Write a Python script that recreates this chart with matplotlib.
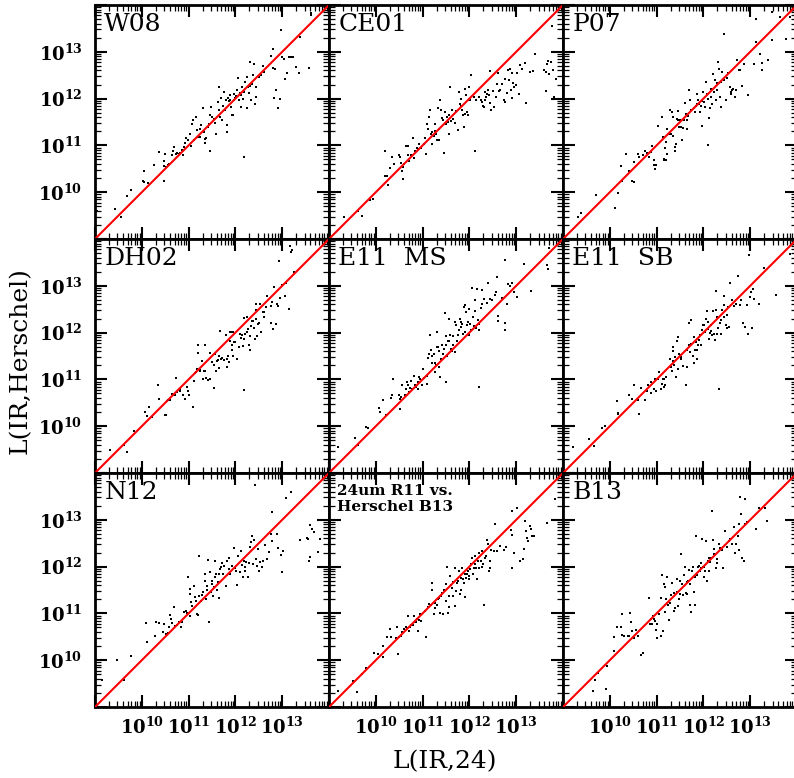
import matplotlib
matplotlib.use("Agg")
import matplotlib.pyplot as plt
import numpy as np
from matplotlib.ticker import FixedLocator, FuncFormatter, NullFormatter

# log10 L(IR,24) (x) and log10 L(IR,Herschel) (y)
w08_x = [9.04, 9.43, 9.55, 9.68, 9.76, 10.02, 10.04, 10.05, 10.14, 10.27,
         10.36, 10.48, 10.50, 10.48, 10.52, 10.55, 10.59, 10.48, 10.64, 10.66,
         10.69, 10.74, 10.76, 10.79, 10.82, 10.86, 10.88, 10.91, 10.93, 10.95,
         10.98, 11.04, 11.05, 11.07, 11.09, 11.12, 11.16, 11.18, 11.21, 11.24,
         11.25, 11.27, 11.31, 11.32, 11.34, 11.36, 11.38, 11.41, 11.43, 11.45,
         11.46, 11.48, 11.50, 11.54, 11.57, 11.59, 11.62, 11.64, 11.66, 11.68,
         11.69, 11.71, 11.74, 11.75, 11.77, 11.79, 11.81, 11.82, 11.84, 11.86,
         11.88, 11.89, 11.91, 11.93, 11.95, 11.96, 11.98, 12.00, 12.02, 12.04,
         12.05, 12.07, 12.09, 12.11, 12.12, 12.14, 12.16, 12.18, 12.19, 12.21,
         12.24, 12.25, 12.26, 12.29, 12.31, 12.32, 12.34, 12.36, 12.38, 12.39,
         12.41, 12.43, 12.45, 12.50, 12.54, 12.59, 12.61, 12.75, 12.81, 12.81,
         12.82, 12.86, 12.84, 12.91, 12.95, 12.98, 13.00, 13.04, 13.07, 13.11,
         13.14, 13.18, 13.24, 13.29, 13.36, 13.38, 13.57, 13.61, 13.62]
w08_y = [9.59, 9.64, 9.46, 9.91, 10.04, 10.25, 10.21, 10.46, 10.20, 10.59,
         10.86, 10.66, 10.81, 10.56, 10.54, 10.59, 10.61, 10.24, 10.79, 10.88,
         10.96, 10.81, 10.84, 10.81, 10.84, 10.91, 10.79, 10.96, 11.06, 11.16,
         11.12, 11.25, 10.98, 11.46, 11.55, 11.11, 11.61, 11.32, 11.18, 11.19,
         11.36, 11.43, 11.79, 11.29, 11.05, 11.14, 11.16, 11.39, 11.45, 11.64,
         10.89, 11.82, 11.61, 11.56, 11.48, 11.24, 11.93, 12.24, 11.75, 11.61,
         12.02, 11.54, 11.84, 12.14, 11.75, 11.96, 11.29, 11.44, 12.02, 11.94,
         11.98, 12.07, 11.81, 11.64, 11.66, 11.96, 12.09, 12.02, 12.05, 12.19,
         12.43, 11.96, 12.11, 11.82, 12.07, 12.24, 12.00, 10.75, 12.14, 12.36,
         12.46, 11.79, 12.25, 12.11, 12.79, 12.26, 11.96, 12.32, 12.50, 12.75,
         11.88, 12.04, 12.24, 12.46, 12.50, 12.69, 12.57, 12.91, 13.07, 12.66,
         12.02, 12.18, 12.64, 11.80, 12.00, 13.46, 12.88, 12.85, 12.41, 12.55,
         12.89, 12.89, 12.89, 12.68, 12.55, 13.32, 12.66, 13.82, 13.78]

ce01_x = [9.32, 9.70, 9.63, 9.88, 9.93, 10.19, 10.24, 10.27, 10.20, 10.31,
          10.34, 10.39, 10.50, 10.52, 10.54, 10.57, 10.59, 10.59, 10.61, 10.64,
          10.68, 10.69, 10.71, 10.75, 10.79, 10.81, 10.84, 10.88, 10.90, 10.93,
          10.97, 11.02, 11.06, 11.07, 11.09, 11.11, 11.14, 11.16, 11.19, 11.20,
          11.21, 11.24, 11.26, 11.27, 11.29, 11.31, 11.33, 11.34, 11.36, 11.38,
          11.40, 11.41, 11.43, 11.45, 11.47, 11.50, 11.52, 11.54, 11.56, 11.57,
          11.59, 11.61, 11.63, 11.66, 11.69, 11.71, 11.76, 11.77, 11.79, 11.81,
          11.83, 11.84, 11.86, 11.88, 11.90, 11.91, 11.93, 11.95, 11.97, 11.99,
          12.00, 12.02, 12.04, 12.09, 12.11, 12.14, 12.20, 12.24, 12.26, 12.29,
          12.31, 12.33, 12.34, 12.36, 12.38, 12.40, 12.41, 12.43, 12.45, 12.47,
          12.50, 12.52, 12.56, 12.59, 12.61, 12.64, 12.66, 12.70, 12.74, 12.76,
          12.77, 12.81, 12.83, 12.84, 12.86, 12.88, 12.90, 12.91, 12.93, 12.95,
          12.99, 13.02, 13.06, 13.09, 13.13, 13.19, 13.22, 13.29, 13.36, 13.40,
          13.60, 13.63, 13.64, 13.66, 13.69, 13.70, 13.74, 13.77, 13.79, 13.81,
          13.84]
ce01_y = [9.48, 9.50, 9.59, 9.84, 9.86, 10.34, 10.34, 10.16, 10.88, 10.52,
          10.76, 10.61, 10.80, 10.75, 10.62, 10.45, 10.29, 10.54, 10.61, 10.99,
          10.99, 10.79, 10.66, 10.79, 11.16, 10.74, 10.88, 10.94, 10.93, 11.04,
          10.94, 11.04, 11.16, 10.82, 11.46, 11.36, 11.61, 11.75, 11.25, 11.29,
          11.02, 11.21, 11.45, 11.31, 11.25, 11.11, 11.79, 11.11, 11.36, 11.96,
          11.75, 11.59, 11.55, 10.84, 11.71, 11.46, 11.61, 11.50, 11.25, 11.66,
          12.25, 11.52, 11.75, 11.57, 11.48, 11.74, 11.32, 12.14, 11.88, 11.84,
          11.99, 11.75, 11.64, 11.39, 12.21, 11.68, 12.07, 11.71, 11.66, 11.98,
          12.24, 11.96, 12.50, 12.04, 10.88, 11.98, 12.04, 11.96, 11.93, 11.84,
          11.81, 12.14, 11.96, 12.04, 12.09, 12.18, 12.07, 12.59, 11.91, 11.75,
          12.16, 11.81, 12.04, 12.31, 12.55, 12.16, 12.19, 12.32, 11.96, 12.41,
          11.93, 12.12, 12.61, 12.39, 12.64, 12.18, 12.02, 12.55, 12.34, 12.25,
          12.29, 12.55, 12.09, 12.71, 12.64, 12.76, 11.91, 12.57, 12.59, 12.95,
          12.61, 12.16, 12.57, 12.74, 12.81, 12.52, 12.79, 13.55, 12.61, 12.04,
          12.41]

p07_x = [9.32, 9.39, 9.71, 10.11, 10.18, 10.26, 10.24, 10.35, 10.42, 10.47,
         10.51, 10.52, 10.61, 10.63, 10.70, 10.75, 10.79, 10.84, 10.89, 10.91,
         10.94, 10.95, 10.96, 10.99, 11.04, 11.11, 11.13, 11.15, 11.16, 11.18,
         11.20, 11.21, 11.22, 11.23, 11.27, 11.29, 11.30, 11.32, 11.34, 11.36,
         11.39, 11.39, 11.41, 11.43, 11.45, 11.46, 11.48, 11.50, 11.53, 11.55,
         11.57, 11.59, 11.60, 11.62, 11.65, 11.66, 11.68, 11.70, 11.72, 11.73,
         11.74, 11.79, 11.82, 11.84, 11.86, 11.87, 11.89, 11.91, 11.93, 11.94,
         11.96, 11.98, 12.00, 12.01, 12.03, 12.05, 12.07, 12.09, 12.10, 12.12,
         12.14, 12.16, 12.17, 12.19, 12.21, 12.23, 12.24, 12.26, 12.28, 12.30,
         12.31, 12.33, 12.35, 12.37, 12.38, 12.40, 12.43, 12.44, 12.48, 12.50,
         12.52, 12.57, 12.58, 12.60, 12.62, 12.64, 12.67, 12.69, 12.72, 12.76,
         12.79, 12.83, 12.87, 12.95, 13.08, 13.13, 13.13, 13.21, 13.26, 13.26,
         13.38, 13.47, 13.47, 13.63, 13.77, 13.84]
p07_y = [9.48, 9.56, 9.93, 9.66, 9.98, 10.25, 10.55, 10.81, 10.45, 10.24,
         10.21, 10.64, 10.82, 10.75, 10.79, 10.89, 10.84, 10.76, 10.86, 10.98,
         10.68, 10.59, 10.50, 10.59, 11.42, 11.61, 11.18, 10.71, 10.69, 10.95,
         10.69, 11.07, 11.36, 10.81, 11.24, 11.75, 11.25, 11.71, 11.21, 11.61,
         10.96, 10.88, 11.04, 11.57, 11.54, 11.74, 11.39, 11.55, 11.39, 11.12,
         11.38, 11.54, 11.91, 11.68, 11.36, 11.54, 11.62, 12.18, 11.96, 11.75,
         11.75, 11.79, 11.71, 11.84, 12.09, 11.89, 11.96, 11.88, 11.71, 11.84,
         11.42, 11.95, 12.14, 11.93, 11.81, 12.36, 12.09, 11.99, 11.00, 11.59,
         11.79, 12.21, 12.04, 11.89, 12.52, 12.14, 12.39, 11.96, 12.34, 12.19,
         12.79, 12.64, 12.04, 11.82, 12.36, 12.57, 13.38, 12.39, 11.96, 12.45,
         12.55, 12.24, 12.14, 12.09, 12.18, 12.21, 12.04, 12.19, 12.82, 12.61,
         12.61, 12.26, 12.75, 12.07, 12.75, 13.21, 13.71, 12.95, 12.61, 12.76,
         12.82, 13.26, 13.84, 13.75, 13.28, 13.74]

dh02_x = [9.32, 9.62, 9.68, 9.84, 10.06, 10.11, 10.16, 10.21, 10.34, 10.37,
          10.50, 10.52, 10.54, 10.57, 10.61, 10.64, 10.66, 10.71, 10.74, 10.76,
          10.81, 10.82, 10.89, 10.93, 10.96, 10.98, 11.00, 11.09, 11.11, 11.14,
          11.16, 11.19, 11.21, 11.21, 11.24, 11.25, 11.29, 11.31, 11.32, 11.36,
          11.36, 11.38, 11.41, 11.45, 11.46, 11.50, 11.54, 11.55, 11.57, 11.59,
          11.61, 11.62, 11.64, 11.66, 11.68, 11.69, 11.71, 11.75, 11.79, 11.81,
          11.82, 11.84, 11.86, 11.88, 11.89, 11.91, 11.93, 11.93, 11.94, 11.95,
          11.96, 11.99, 12.04, 12.07, 12.09, 12.11, 12.14, 12.16, 12.18, 12.19,
          12.19, 12.21, 12.24, 12.25, 12.26, 12.29, 12.31, 12.32, 12.34, 12.36,
          12.38, 12.39, 12.41, 12.43, 12.43, 12.45, 12.46, 12.48, 12.50, 12.52,
          12.54, 12.59, 12.61, 12.62, 12.66, 12.68, 12.76, 12.76, 12.79, 12.81,
          12.82, 12.86, 12.89, 12.91, 12.93, 12.95, 13.00, 13.05, 13.09, 13.14,
          13.16, 13.18, 13.21, 13.25]
dh02_y = [9.50, 9.59, 9.44, 9.89, 10.31, 10.21, 10.41, 10.19, 10.87, 10.59,
          10.23, 10.24, 10.54, 10.57, 10.57, 10.69, 10.67, 10.66, 11.03, 10.74,
          10.76, 10.79, 10.67, 10.59, 10.84, 10.76, 10.66, 10.40, 10.97, 11.14,
          11.16, 11.23, 11.73, 11.57, 11.17, 11.20, 11.39, 11.01, 11.19, 11.74,
          11.19, 11.04, 10.98, 11.00, 11.57, 11.37, 10.81, 11.30, 11.55, 11.17,
          11.39, 11.41, 11.50, 11.24, 12.03, 11.43, 11.46, 11.41, 11.94, 11.26,
          11.44, 11.50, 11.37, 12.01, 11.81, 12.01, 11.73, 11.62, 11.51, 12.01,
          11.79, 11.80, 11.44, 11.69, 11.98, 11.89, 11.94, 11.71, 12.31, 10.78,
          11.87, 11.98, 12.34, 12.01, 12.07, 11.73, 11.62, 11.93, 12.14, 12.24,
          12.24, 12.09, 11.86, 12.30, 12.62, 12.48, 11.93, 12.19, 12.21, 12.62,
          12.01, 12.43, 12.34, 12.43, 12.55, 12.79, 12.21, 12.57, 12.66, 12.07,
          12.98, 12.19, 12.62, 12.57, 13.54, 12.73, 13.01, 12.79, 13.05, 12.51,
          13.84, 13.73, 13.76, 13.30]

e11ms_x = [9.20, 9.56, 9.63, 9.79, 9.83, 10.07, 10.09, 10.16, 10.21, 10.33,
           10.34, 10.36, 10.50, 10.52, 10.52, 10.54, 10.56, 10.63, 10.64, 10.66,
           10.69, 10.70, 10.74, 10.76, 10.77, 10.81, 10.83, 10.86, 10.90, 10.91,
           10.93, 10.95, 10.99, 11.00, 11.02, 11.09, 11.09, 11.11, 11.14, 11.16,
           11.19, 11.20, 11.21, 11.24, 11.26, 11.27, 11.29, 11.31, 11.31, 11.33,
           11.34, 11.36, 11.38, 11.40, 11.41, 11.43, 11.45, 11.47, 11.49, 11.50,
           11.50, 11.52, 11.54, 11.56, 11.57, 11.59, 11.61, 11.63, 11.64, 11.66,
           11.69, 11.70, 11.71, 11.74, 11.76, 11.77, 11.79, 11.81, 11.83, 11.84,
           11.86, 11.88, 11.90, 11.91, 11.93, 11.95, 11.97, 11.99, 12.00, 12.02,
           12.04, 12.06, 12.07, 12.09, 12.11, 12.13, 12.14, 12.16, 12.19, 12.20,
           12.21, 12.21, 12.24, 12.26, 12.27, 12.31, 12.38, 12.40, 12.45, 12.49,
           12.54, 12.57, 12.59, 12.61, 12.61, 12.70, 12.76, 12.77, 12.77, 12.81,
           12.83, 12.86, 12.90, 12.95, 13.02, 13.16, 13.31, 13.66, 13.69, 13.70]
e11ms_y = [9.55, 9.74, 9.59, 9.98, 9.96, 10.39, 10.30, 10.55, 10.24, 10.60,
           10.67, 11.00, 10.66, 10.59, 10.36, 10.62, 10.87, 10.67, 10.79, 10.94,
           10.87, 10.73, 10.81, 10.96, 10.80, 11.07, 10.87, 10.84, 10.94, 10.79,
           11.05, 11.00, 10.89, 11.23, 11.03, 10.91, 11.07, 11.46, 11.55, 11.94,
           11.62, 11.50, 11.34, 11.55, 11.36, 11.16, 11.30, 12.01, 11.69, 11.69,
           11.60, 11.26, 11.05, 11.44, 11.73, 11.55, 11.66, 12.41, 11.93, 10.94,
           11.73, 11.51, 11.81, 12.30, 11.81, 11.94, 11.66, 11.60, 11.93, 11.73,
           11.59, 12.23, 12.17, 11.81, 11.94, 12.05, 12.30, 12.12, 12.23, 12.19,
           11.98, 12.55, 12.01, 12.59, 12.43, 12.16, 12.23, 12.51, 11.94, 12.19,
           12.05, 12.96, 12.34, 12.14, 12.69, 12.46, 12.09, 12.93, 12.26, 12.19,
           10.84, 12.05, 12.53, 12.62, 12.91, 12.71, 12.64, 13.07, 12.71, 12.69,
           12.80, 12.86, 13.19, 12.35, 12.24, 12.73, 13.55, 12.21, 12.06, 12.62,
           13.03, 13.00, 13.07, 12.87, 12.76, 13.46, 12.89, 13.44, 13.36, 13.80]

e11sb_x = [9.21, 9.55, 9.67, 9.83, 9.89, 10.16, 10.17, 10.18, 10.42, 10.47,
           10.52, 10.61, 10.63, 10.67, 10.75, 10.79, 10.82, 10.87, 10.88, 10.94,
           10.96, 10.99, 11.02, 11.06, 11.09, 11.11, 11.13, 11.15, 11.16, 11.18,
           11.20, 11.29, 11.30, 11.32, 11.34, 11.34, 11.36, 11.38, 11.39, 11.41,
           11.43, 11.45, 11.46, 11.48, 11.50, 11.52, 11.53, 11.57, 11.62, 11.65,
           11.66, 11.70, 11.70, 11.72, 11.73, 11.74, 11.77, 11.79, 11.80, 11.82,
           11.84, 11.86, 11.87, 11.89, 11.91, 11.93, 11.94, 11.98, 12.00, 12.01,
           12.03, 12.05, 12.07, 12.09, 12.10, 12.12, 12.14, 12.16, 12.17, 12.19,
           12.21, 12.23, 12.24, 12.26, 12.26, 12.28, 12.30, 12.31, 12.33, 12.35,
           12.37, 12.38, 12.40, 12.43, 12.44, 12.45, 12.48, 12.50, 12.51, 12.52,
           12.55, 12.57, 12.62, 12.65, 12.69, 12.74, 12.78, 12.81, 12.85, 12.88,
           12.94, 12.95, 12.97, 12.99, 13.02, 13.04, 13.06, 13.09, 13.18, 13.29,
           13.56, 13.84]
e11sb_y = [9.55, 9.73, 9.57, 9.96, 10.00, 10.53, 10.26, 10.29, 10.66, 10.59,
           10.89, 10.55, 10.26, 10.81, 10.55, 10.76, 10.87, 10.71, 10.94, 10.80,
           11.01, 10.76, 11.00, 11.16, 10.79, 10.91, 11.00, 10.84, 11.00, 10.89,
           11.05, 11.43, 11.26, 11.17, 11.69, 11.60, 11.39, 11.30, 11.48, 11.05,
           11.81, 11.91, 11.23, 11.55, 11.53, 11.44, 11.48, 11.29, 10.87, 11.26,
           11.62, 12.21, 11.73, 11.59, 11.76, 12.26, 11.51, 11.91, 11.34, 11.62,
           11.79, 11.44, 11.62, 11.73, 11.84, 11.94, 11.73, 12.05, 12.17, 12.16,
           12.01, 12.30, 12.46, 12.07, 12.23, 11.87, 12.00, 12.16, 12.03, 11.94,
           12.46, 11.98, 11.84, 12.89, 12.48, 12.34, 11.96, 12.09, 10.80, 12.21,
           11.96, 12.26, 12.48, 12.34, 12.79, 12.59, 12.16, 12.09, 12.37, 12.55,
           12.12, 13.05, 12.69, 12.57, 12.62, 13.21, 12.59, 12.69, 12.21, 12.11,
           12.60, 11.96, 13.66, 12.76, 12.87, 12.09, 12.94, 12.71, 12.62, 13.37,
           12.80, 13.69]

n12_x = [9.15, 9.48, 9.62, 9.77, 10.09, 10.12, 10.28, 10.30, 10.37, 10.45,
         10.48, 10.51, 10.55, 10.58, 10.60, 10.62, 10.65, 10.69, 10.71, 10.76,
         10.79, 10.83, 10.85, 10.90, 10.94, 10.97, 10.99, 11.02, 11.04, 11.04,
         11.06, 11.08, 11.11, 11.13, 11.15, 11.18, 11.21, 11.22, 11.23, 11.26,
         11.28, 11.30, 11.35, 11.36, 11.38, 11.40, 11.40, 11.42, 11.43, 11.45,
         11.47, 11.49, 11.50, 11.52, 11.54, 11.56, 11.57, 11.59, 11.61, 11.63,
         11.65, 11.66, 11.68, 11.70, 11.72, 11.73, 11.75, 11.79, 11.82, 11.86,
         11.87, 11.89, 11.93, 11.96, 12.00, 12.01, 12.04, 12.06, 12.09, 12.11,
         12.14, 12.16, 12.18, 12.20, 12.21, 12.23, 12.27, 12.28, 12.32, 12.34,
         12.35, 12.37, 12.39, 12.41, 12.43, 12.46, 12.48, 12.50, 12.53, 12.57,
         12.60, 12.64, 12.67, 12.71, 12.77, 12.78, 12.79, 12.89, 12.91, 12.98,
         12.99, 13.01, 13.08, 13.19, 13.38, 13.52, 13.56, 13.57, 13.60, 13.60,
         13.63, 13.69, 13.77, 13.81]
n12_y = [9.58, 10.00, 9.58, 10.08, 10.79, 10.38, 10.51, 10.81, 10.79, 10.61,
         10.77, 10.56, 10.59, 10.70, 10.96, 10.88, 10.79, 11.13, 10.74, 10.75,
         10.81, 10.70, 10.81, 11.02, 11.06, 11.01, 11.77, 10.95, 11.52, 11.41,
         11.24, 11.16, 11.59, 11.34, 11.27, 10.99, 10.96, 12.22, 11.38, 11.27,
         11.39, 11.45, 11.70, 11.84, 11.31, 11.58, 11.49, 12.15, 10.81, 11.89,
         11.45, 11.63, 11.70, 11.38, 11.56, 11.77, 12.11, 11.84, 11.49, 11.68,
         11.84, 11.32, 11.95, 11.99, 12.08, 11.84, 12.02, 11.59, 12.13, 12.18,
         11.95, 11.84, 12.02, 12.39, 11.96, 11.91, 11.61, 12.22, 11.88, 12.34,
         12.04, 11.77, 12.13, 11.99, 11.91, 12.09, 11.77, 12.08, 12.41, 12.52,
         12.65, 12.06, 12.56, 13.75, 12.16, 12.02, 12.38, 11.91, 12.09, 11.99,
         12.13, 12.46, 12.16, 12.31, 12.70, 13.16, 12.54, 12.70, 12.39, 12.24,
         11.88, 12.34, 13.46, 13.59, 12.56, 12.61, 12.59, 12.11, 12.20, 12.88,
         12.81, 12.75, 12.32, 12.59]

r11_x = [9.20, 9.52, 9.59, 9.71, 9.79, 9.97, 10.04, 10.16, 10.16, 10.24,
         10.31, 10.33, 10.43, 10.45, 10.47, 10.50, 10.54, 10.57, 10.61, 10.64,
         10.66, 10.69, 10.70, 10.74, 10.76, 10.79, 10.81, 10.83, 10.86, 10.88,
         10.90, 10.93, 10.95, 10.97, 11.06, 11.07, 11.11, 11.14, 11.19, 11.20,
         11.21, 11.24, 11.26, 11.27, 11.31, 11.33, 11.36, 11.38, 11.40, 11.41,
         11.43, 11.45, 11.49, 11.50, 11.52, 11.54, 11.56, 11.57, 11.59, 11.61,
         11.63, 11.64, 11.66, 11.69, 11.70, 11.71, 11.74, 11.76, 11.77, 11.79,
         11.81, 11.83, 11.84, 11.86, 11.88, 11.90, 11.91, 11.93, 11.95, 11.97,
         11.99, 12.00, 12.02, 12.04, 12.06, 12.07, 12.09, 12.11, 12.13, 12.14,
         12.16, 12.19, 12.20, 12.21, 12.24, 12.26, 12.27, 12.29, 12.31, 12.33,
         12.34, 12.36, 12.38, 12.40, 12.41, 12.43, 12.45, 12.47, 12.52, 12.54,
         12.59, 12.66, 12.74, 12.79, 12.88, 12.90, 12.90, 12.91, 12.95, 13.02,
         13.09, 13.14, 13.16, 13.19, 13.21, 13.24, 13.26, 13.29, 13.31, 13.33,
         13.38, 13.66, 13.83]
r11_y = [9.35, 9.55, 9.32, 9.71, 9.84, 10.16, 10.14, 10.07, 10.30, 10.49,
         10.66, 10.49, 10.48, 10.71, 10.14, 10.49, 10.51, 10.61, 10.66, 10.71,
         10.68, 10.94, 10.62, 10.71, 10.76, 10.75, 10.94, 10.82, 10.82, 10.87,
         10.62, 10.85, 10.99, 10.84, 11.06, 10.49, 11.14, 11.21, 11.18, 11.64,
         11.51, 10.98, 11.23, 11.12, 11.18, 11.30, 11.32, 11.01, 11.37, 11.44,
         10.98, 11.49, 11.62, 11.26, 11.99, 11.01, 11.14, 11.37, 11.80, 11.61,
         11.54, 11.68, 11.37, 11.98, 11.16, 11.48, 11.66, 11.69, 11.91, 11.42,
         11.51, 11.76, 11.96, 11.73, 11.66, 11.34, 11.85, 11.76, 11.85, 11.91,
         11.80, 11.73, 11.94, 12.05, 12.19, 11.84, 11.98, 12.06, 12.23, 11.96,
         11.73, 12.12, 12.28, 11.98, 12.12, 11.99, 12.34, 12.05, 11.18, 12.19,
         12.18, 12.23, 12.56, 12.49, 11.91, 11.98, 12.11, 12.35, 12.34, 12.92,
         12.34, 12.44, 12.35, 12.41, 12.78, 13.18, 12.68, 11.96, 12.28, 13.25,
         12.11, 12.16, 12.37, 12.98, 12.76, 12.61, 12.54, 12.87, 12.80, 12.66,
         12.66, 12.94, 13.44]

b13_x = [9.65, 9.68, 9.75, 9.91, 9.94, 10.08, 10.08, 10.15, 10.23, 10.25,
         10.25, 10.30, 10.38, 10.41, 10.43, 10.46, 10.48, 10.52, 10.57, 10.60,
         10.67, 10.72, 10.84, 10.86, 10.87, 10.91, 10.93, 10.94, 10.96, 10.98,
         11.00, 11.01, 11.05, 11.09, 11.10, 11.12, 11.14, 11.16, 11.17, 11.19,
         11.21, 11.23, 11.24, 11.26, 11.28, 11.30, 11.33, 11.37, 11.38, 11.40,
         11.43, 11.44, 11.45, 11.48, 11.50, 11.51, 11.52, 11.55, 11.57, 11.58,
         11.60, 11.62, 11.64, 11.65, 11.67, 11.69, 11.71, 11.72, 11.74, 11.76,
         11.78, 11.79, 11.81, 11.83, 11.85, 11.87, 11.88, 11.90, 11.92, 11.94,
         11.95, 11.97, 11.99, 12.01, 12.02, 12.04, 12.06, 12.08, 12.09, 12.11,
         12.13, 12.15, 12.16, 12.18, 12.21, 12.22, 12.23, 12.26, 12.28, 12.29,
         12.33, 12.36, 12.40, 12.42, 12.47, 12.50, 12.54, 12.57, 12.61, 12.65,
         12.68, 12.70, 12.73, 12.75, 12.77, 12.79, 12.80, 12.82, 12.86, 12.89,
         12.89, 12.94, 13.13, 13.18, 13.32, 13.35]
b13_y = [9.35, 9.57, 9.73, 9.38, 9.87, 10.19, 10.50, 10.72, 10.71, 10.98,
         10.53, 10.51, 10.51, 10.51, 11.01, 10.82, 10.62, 10.48, 10.65, 10.51,
         10.11, 10.16, 11.33, 10.77, 10.87, 10.78, 10.94, 10.89, 10.84, 10.65,
         10.48, 10.78, 10.99, 10.51, 11.33, 11.81, 10.62, 11.63, 11.57, 11.03,
         11.31, 11.77, 11.17, 10.85, 11.22, 11.40, 11.65, 11.06, 11.43, 11.12,
         11.74, 11.45, 11.15, 11.31, 11.69, 11.42, 12.26, 11.63, 11.40, 11.81,
         12.00, 11.43, 11.67, 11.42, 11.70, 11.93, 11.17, 11.63, 11.03, 11.91,
         11.99, 11.45, 11.77, 11.19, 12.66, 11.81, 12.00, 12.02, 11.91, 12.07,
         11.97, 12.59, 11.99, 11.77, 12.00, 11.91, 12.54, 11.70, 12.11, 12.18,
         11.90, 12.09, 12.18, 13.18, 12.57, 12.27, 12.38, 11.97, 12.07, 12.16,
         12.48, 12.40, 12.35, 11.97, 12.77, 12.41, 12.54, 12.59, 12.48, 12.85,
         12.30, 12.48, 12.66, 12.35, 12.92, 13.48, 13.12, 12.18, 12.11, 12.92,
         13.44, 12.96, 12.80, 13.25, 13.26, 12.98]

panel_names = ["W08", "CE01", "P07",
               "DH02", "E11  MS", "E11  SB",
               "N12", "24um R11 vs.\nHerschel B13", "B13"]
panel_x = [w08_x, ce01_x, p07_x, dh02_x, e11ms_x, e11sb_x, n12_x, r11_x, b13_x]
panel_y = [w08_y, ce01_y, p07_y, dh02_y, e11ms_y, e11sb_y, n12_y, r11_y, b13_y]

lmin, lmax = 9, 14
labelled_decades = [10, 11, 12, 13]

plt.rcParams['font.family'] = ['DejaVu Serif']
plt.rcParams['mathtext.fontset'] = 'dejavuserif'


def decade_label(v, pos):
    e = int(round(np.log10(v)))
    if e in labelled_decades:
        return r'$\mathbf{10^{%d}}$' % e
    return ''


fig = plt.figure(figsize=(7.94, 7.78), dpi=100)
W, H = 794.0, 778.0
left0, top0, size = 95.0, 5.0, 234.0

for k in range(9):
    row, col = divmod(k, 3)
    l = (left0 + col * size) / W
    b = (H - (top0 + (row + 1) * size)) / H
    ax = fig.add_axes([l, b, size / W, size / H])

    xs = 10.0 ** np.array(panel_x[k])
    ys = 10.0 ** np.array(panel_y[k])
    n = min(len(xs), len(ys))
    ax.scatter(xs[:n], ys[:n], s=2.6, marker='s', c='black', linewidths=0, zorder=2)
    ax.plot([10.0 ** lmin, 10.0 ** lmax], [10.0 ** lmin, 10.0 ** lmax],
            color='red', lw=1.5, zorder=3)

    ax.set_xscale('log')
    ax.set_yscale('log')
    ax.set_xlim(10.0 ** lmin, 10.0 ** lmax)
    ax.set_ylim(10.0 ** lmin, 10.0 ** lmax)

    majors = [10.0 ** e for e in range(lmin, lmax + 1)]
    minors = [m * 10.0 ** e for e in range(lmin, lmax) for m in range(2, 10)]
    for axis in (ax.xaxis, ax.yaxis):
        axis.set_major_locator(FixedLocator(majors))
        axis.set_minor_locator(FixedLocator(minors))
        axis.set_major_formatter(FuncFormatter(decade_label))
        axis.set_minor_formatter(NullFormatter())

    ax.tick_params(which='both', direction='in', top=True, right=True)
    ax.tick_params(which='major', length=8.5, width=1.5, labelsize=13, pad=7)
    ax.tick_params(which='minor', length=4.5, width=0.9)
    ax.tick_params(axis='y', which='major', pad=9)
    if col != 0:
        ax.tick_params(axis='y', labelleft=False)
    if row != 2:
        ax.tick_params(axis='x', labelbottom=False)
    for sp in ax.spines.values():
        sp.set_linewidth(2.0)

    if '\n' in panel_names[k]:
        ax.text(0.035, 0.955, panel_names[k], transform=ax.transAxes,
                ha='left', va='top', fontsize=11, fontweight='bold',
                linespacing=1.2)
    else:
        ax.text(0.04, 0.965, panel_names[k], transform=ax.transAxes,
                ha='left', va='top', fontsize=18)

fig.text(445 / W, 1 - 762 / H, 'L(IR,24)', ha='center', va='center', fontsize=18)
fig.text(20 / W, 1 - 361 / H, 'L(IR,Herschel)', ha='center', va='center',
         rotation=90, fontsize=18)

fig.savefig('out.png', dpi=100)
